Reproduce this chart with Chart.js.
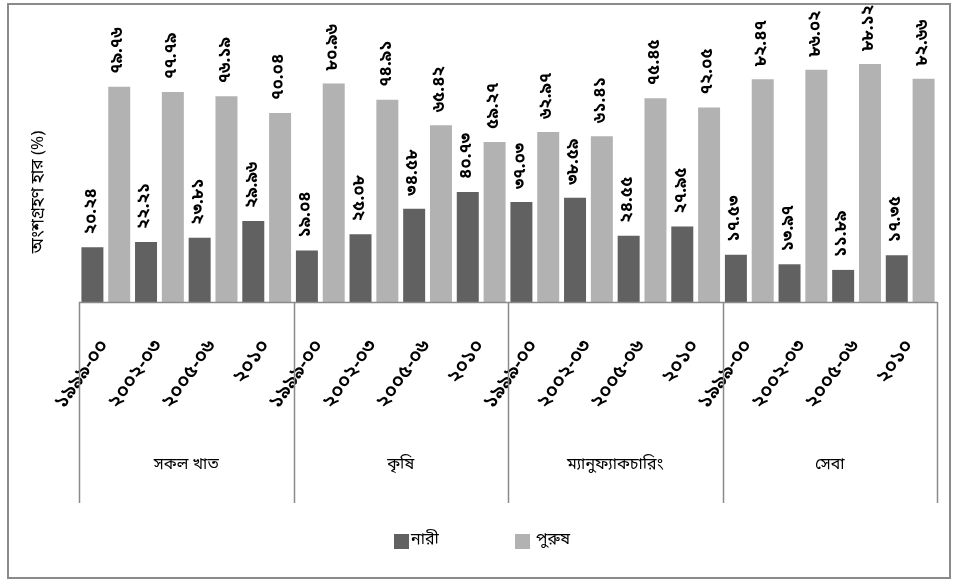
<!DOCTYPE html>
<html>
<head>
<meta charset="utf-8">
<script src="https://cdn.jsdelivr.net/npm/chart.js@4.4.1/dist/chart.umd.min.js"></script>
<style>
  html, body { margin: 0; padding: 0; background: #fff; }
  #wrap { width: 958px; height: 582px; }
</style>
</head>
<body>
<div id="wrap"><canvas id="rateChart" width="958" height="582"></canvas></div>
<script>
// খাত ও বছর
const sectors = ['সকল খাত', 'কৃষি', 'ম্যানুফ্যাকচারিং', 'সেবা'];
const years = ['১৯৯৯-০০', '২০০২-০৩', '২০০৫-০৬', '২০১০'];

// অংশগ্রহণ হার (%)
const womenRates = [20.24, 22.21, 23.81, 29.96, 19.04, 25.08, 34.58, 40.73,
                    37.03, 38.59, 24.55, 27.95, 17.53, 13.97, 11.89, 17.35];
const menRates = [79.76, 77.79, 76.19, 70.04, 80.96, 74.91, 65.42, 59.27,
                  62.97, 61.41, 75.45, 72.05, 82.47, 86.02, 88.12, 82.66];

const seriesNames = ['নারী', 'পুরুষ'];
const yTitle = 'অংশগ্রহণ হার (%)';

const BN_FONT = '"Noto Sans Bengali", "Noto Serif Bengali", "Lohit Bengali", "FreeSans", "Noto Sans", sans-serif';
const DARK = '#616161';
const LIGHT = '#b2b2b2';
const LINE = '#8a8a8a';

// ১৬টি বিভাগ = ৪ খাত x ৪ বছর
const labels = [];
sectors.forEach(() => years.forEach(y => labels.push(y)));

function toBangla(num) {
    const d = '০১২৩৪৫৬৭৮৯';
    return num.toFixed(2).replace(/[0-9]/g, c => d[+c]);
}

// বারের উপরে খাড়া লেবেল, নিচে খাত, লেজেন্ড আর ফ্রেম
const decorations = {
    id: 'decorations',
    afterDatasetsDraw(chart) {
        const ctx = chart.ctx;
        ctx.save();
        ctx.fillStyle = '#000';
        ctx.font = 'bold 17px ' + BN_FONT;
        ctx.textAlign = 'left';
        ctx.textBaseline = 'middle';
        chart.data.datasets.forEach((ds, i) => {
            chart.getDatasetMeta(i).data.forEach((bar, j) => {
                ctx.save();
                ctx.translate(bar.x, bar.y - 13);
                ctx.rotate(-Math.PI / 2);
                ctx.fillText(toBangla(ds.data[j]), 0, 0);
                ctx.restore();
            });
        });
        ctx.restore();
    },
    afterDraw(chart) {
        const ctx = chart.ctx;
        const area = chart.chartArea;
        const x = chart.scales.x;
        const lineEnd = 503;
        ctx.save();
        ctx.strokeStyle = LINE;
        ctx.lineWidth = 1.5;

        // x অক্ষ রেখা
        ctx.beginPath();
        ctx.moveTo(area.left, area.bottom + 0.5);
        ctx.lineTo(area.right, area.bottom + 0.5);
        ctx.stroke();

        // খাতের বিভাজক রেখা ও নাম
        const per = years.length;
        const edges = [area.left];
        for (let g = 1; g < sectors.length; g++) {
            const k = g * per;
            edges.push((x.getPixelForTick(k - 1) + x.getPixelForTick(k)) / 2);
        }
        edges.push(area.right);
        edges.forEach(ex => {
            ctx.beginPath();
            ctx.moveTo(Math.round(ex) + 0.5, area.bottom);
            ctx.lineTo(Math.round(ex) + 0.5, lineEnd);
            ctx.stroke();
        });
        ctx.fillStyle = '#000';
        ctx.font = '16px ' + BN_FONT;
        ctx.textAlign = 'center';
        ctx.textBaseline = 'middle';
        sectors.forEach((s, g) => {
            ctx.fillText(s, (edges[g] + edges[g + 1]) / 2, 466);
        });

        // y অক্ষের শিরোনাম
        ctx.save();
        ctx.translate(40, 192);
        ctx.rotate(-Math.PI / 2);
        ctx.font = '17px ' + BN_FONT;
        ctx.fillText(yTitle, 0, 0);
        ctx.restore();

        // লেজেন্ড
        const items = [{x: 394, c: DARK, gap: 17}, {x: 515, c: LIGHT, gap: 21}];
        ctx.textAlign = 'left';
        ctx.font = '16px ' + BN_FONT;
        items.forEach((it, i) => {
            ctx.fillStyle = it.c;
            ctx.fillRect(it.x, 534, 15, 15);
            ctx.fillStyle = '#000';
            ctx.fillText(seriesNames[i], it.x + it.gap, 541);
        });

        // বাইরের ফ্রেম
        ctx.lineWidth = 2;
        ctx.strokeRect(8, 4, 942, 574);
        ctx.restore();
    }
};

const chartEl = document.getElementById('rateChart').getContext('2d');
new Chart(chartEl, {
    type: 'bar',
    data: {
        labels: labels,
        datasets: [
            { label: seriesNames[0], data: womenRates, backgroundColor: DARK },
            { label: seriesNames[1], data: menRates, backgroundColor: LIGHT }
        ]
    },
    options: {
        responsive: false,
        animation: false,
        devicePixelRatio: 1,
        layout: { padding: { left: 79, right: 21, top: 32, bottom: 0 } },
        datasets: { bar: { categoryPercentage: 1.0, barPercentage: 0.82 } },
        plugins: {
            legend: { display: false },
            tooltip: { enabled: false }
        },
        scales: {
            x: {
                grid: { display: false },
                border: { display: false },
                ticks: {
                    color: '#000',
                    font: { family: BN_FONT, size: 20, weight: '600' },
                    minRotation: 55,
                    maxRotation: 55,
                    padding: 26,
                    autoSkip: false
                },
                afterFit(scale) { scale.height = 280; }
            },
            y: {
                display: false,
                min: 0,
                max: 100
            }
        }
    },
    plugins: [decorations]
});
</script>
</body>
</html>
